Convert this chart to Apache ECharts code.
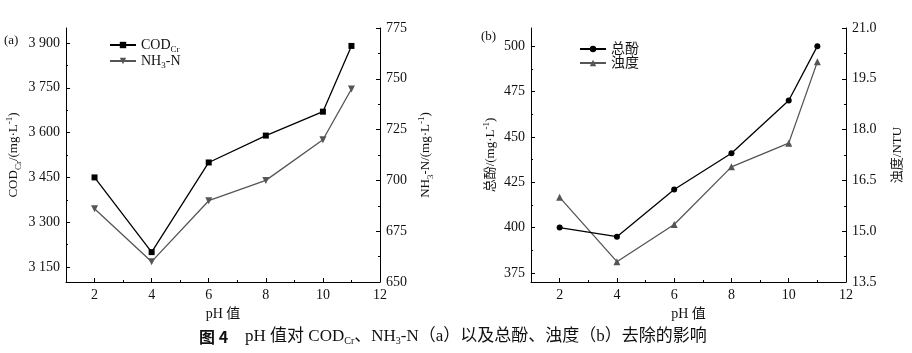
<!DOCTYPE html>
<html><head><meta charset="utf-8">
<script src="https://cdn.jsdelivr.net/npm/echarts@6/dist/echarts.min.js"></script>
<style>html,body{margin:0;padding:0;background:#fff}#c{width:912px;height:353px}</style>
</head><body><div id="c"></div>
<script>
// ---- data ----
const phValues = [2, 4, 6, 8, 10, 11];
const codCr = [3450, 3200, 3500, 3590, 3670, 3890];
const nh3n = [686, 660, 690, 700, 720, 745];
const phenol = [400, 395, 421, 441, 470, 500];
const turbidity = [16.0, 14.1, 15.2, 16.9, 17.6, 20.0];
// ---- tick labels ----
const phTicks = [2, 4, 6, 8, 10, 12];
const codTicks = [3150, 3300, 3450, 3600, 3750, 3900];
const nh3Ticks = [650, 675, 700, 725, 750, 775];
const phenolTicks = [375, 400, 425, 450, 475, 500];
const turbTicks = [13.5, 15.0, 16.5, 18.0, 19.5, 21.0];

function mids(arr, lo, hi) {
  const out = [];
  const step = arr[1] - arr[0];
  for (let v = arr[0] - step / 2; v <= hi + 1e-9; v += step) {
    if (v >= lo - 1e-9) out.push(+v.toFixed(4));
  }
  return out;
}
const FONT = "'Liberation Serif', 'Noto Sans CJK SC', serif";
const richStyles = {
  n: { fontSize: 13, lineHeight: 18, fontFamily: FONT, color: '#111' },
  sub: { fontSize: 9, lineHeight: 10, verticalAlign: 'bottom', fontFamily: FONT, color: '#111' },
  sup: { fontSize: 9, lineHeight: 10, verticalAlign: 'top', fontFamily: FONT, color: '#111' }
};
const lineC = '#000';
function mainAxis(extra) {
  return Object.assign({
    type: 'value',
    axisLine: { show: true, onZero: false, lineStyle: { color: lineC, width: 1 } },
    splitLine: { show: false },
    axisTick: { show: true, inside: true, length: 4, lineStyle: { color: lineC } },
    axisLabel: { fontFamily: FONT, fontSize: 14, color: '#111', margin: 6 },
    nameTextStyle: { fontFamily: FONT, fontSize: 13, color: '#111', rich: richStyles }
  }, extra);
}
function minorAxis(extra, ticks) {
  return Object.assign({
    type: 'value',
    axisLine: { show: false },
    splitLine: { show: false },
    axisTick: { show: true, inside: true, length: 2, customValues: ticks, lineStyle: { color: lineC } },
    axisLabel: { show: false }
  }, extra);
}
function withTicks(ax, ticks, fmt) {
  ax.axisTick.customValues = ticks;
  ax.axisLabel.customValues = ticks;
  if (fmt) ax.axisLabel.formatter = fmt;
  return ax;
}
const spaceFmt = v => { const s = String(Math.round(v)); return s.length > 3 ? s.slice(0, s.length - 3) + ' ' + s.slice(-3) : s; };

const xAxes = [];
const yAxes = [];
[0, 1].forEach(g => {
  const ax = withTicks(mainAxis({ gridIndex: g, min: 1, max: 12, position: 'bottom',
    name: 'pH 值', nameLocation: 'middle', nameGap: 24 }), phTicks);
  ax.nameTextStyle = { fontFamily: FONT, fontSize: 14, color: '#111' };
  xAxes.push(ax);
  xAxes.push(minorAxis({ gridIndex: g, min: 1, max: 12, position: 'bottom' }, [3, 5, 7, 9, 11]));
});
// grid 0 y axes
yAxes.push(withTicks(mainAxis({ gridIndex: 0, min: 3100, max: 3950, position: 'left',
  name: '{n|COD}{sub|Cr}{n|/(mg·L}{sup|-1}{n|)}', nameLocation: 'middle', nameGap: 43, nameRotate: 90 }), codTicks, spaceFmt));
yAxes.push(withTicks(mainAxis({ gridIndex: 0, min: 650, max: 775, position: 'right',
  name: '{n|NH}{sub|3}{n|-N/(mg·L}{sup|-1}{n|)}', nameLocation: 'middle', nameGap: 37, nameRotate: 90 }), nh3Ticks));
yAxes.push(minorAxis({ gridIndex: 0, min: 3100, max: 3950, position: 'left' }, mids(codTicks, 3100, 3950)));
yAxes.push(minorAxis({ gridIndex: 0, min: 650, max: 775, position: 'right' }, mids(nh3Ticks, 650, 775)));
// grid 1 y axes
yAxes.push(withTicks(mainAxis({ gridIndex: 1, min: 370, max: 510, position: 'left',
  name: '{n|总酚/(mg·L}{sup|-1}{n|)}', nameLocation: 'middle', nameGap: 31, nameRotate: 90 }), phenolTicks));
yAxes.push(withTicks(mainAxis({ gridIndex: 1, min: 13.5, max: 21, position: 'right',
  name: '{n|浊度/NTU}', nameLocation: 'middle', nameGap: 43, nameRotate: 90 }), turbTicks, v => v.toFixed(1)));
yAxes.push(minorAxis({ gridIndex: 1, min: 370, max: 510, position: 'left' }, mids(phenolTicks, 370, 510)));
yAxes.push(minorAxis({ gridIndex: 1, min: 13.5, max: 21, position: 'right' }, mids(turbTicks, 13.5, 21)));

function pairs(vals) { return phValues.map((x, i) => [x, vals[i]]); }
const black = '#000', gray = '#555';
function ser(name, vals, xi, yi, color, symbol, size, rot) {
  return {
    name, type: 'line', xAxisIndex: xi, yAxisIndex: yi, data: pairs(vals),
    symbol, symbolSize: size, symbolRotate: rot || 0, showSymbol: true,
    lineStyle: { color, width: 1.3 }, itemStyle: { color },
    animation: false, z: name === 'COD' || name === '总酚' ? 3 : 2
  };
}
const legendNames = {
  'COD': '{n|COD}{sub|Cr}',
  'NH3': '{n|NH}{sub|3}{n|-N}'
};
const legendRich = {
  n: { fontSize: 14, lineHeight: 18, fontFamily: FONT, color: '#111' },
  sub: { fontSize: 9, lineHeight: 10, verticalAlign: 'bottom', fontFamily: FONT, color: '#111' }
};

const chart = echarts.init(document.getElementById('c'), null, { renderer: 'canvas' });
chart.setOption({
  animation: false,
  backgroundColor: '#fff',
  grid: [
    { left: 66, top: 28, width: 314, height: 254, containLabel: false },
    { left: 531, top: 28, width: 315, height: 254, containLabel: false }
  ],
  xAxis: xAxes,
  yAxis: yAxes,
  legend: [
    { data: ['COD', 'NH3'], orient: 'vertical', left: 104, top: 33, itemGap: 0, itemWidth: 26, itemHeight: 8,
      formatter: n => legendNames[n], textStyle: { rich: legendRich, fontSize: 14, fontFamily: FONT } },
    { data: ['总酚', '浊度'], orient: 'vertical', left: 574, top: 37, itemGap: 0, itemWidth: 26, itemHeight: 8,
      formatter: n => '{n|' + n + '}', textStyle: { rich: legendRich, fontSize: 14, fontFamily: FONT } }
  ],
  series: [
    ser('COD', codCr, 0, 0, black, 'rect', 6),
    ser('NH3', nh3n, 0, 1, gray, 'triangle', 7, 180),
    ser('总酚', phenol, 2, 4, black, 'circle', 6),
    ser('浊度', turbidity, 2, 5, gray, 'triangle', 7)
  ],
  graphic: [
    { type: 'text', left: 4, top: 34, style: { text: '(a)', font: "13px 'Liberation Serif'", fill: '#111' } },
    { type: 'text', left: 481, top: 30, style: { text: '(b)', font: "13px 'Liberation Serif'", fill: '#111' } },
    { type: 'text', left: 199, top: 328, style: {
        text: '{b|图 4}{t|    pH 值对 COD}{s|Cr}{t|、NH}{s|3}{t|-N（a）以及总酚、浊度（b）去除的影响}',
        rich: {
          b: { fontSize: 16, fontWeight: 'bold', fontFamily: "'Noto Sans CJK SC', sans-serif", fill: '#111', lineHeight: 20 },
          t: { fontSize: 17, fontFamily: FONT, fill: '#111', lineHeight: 20 },
          s: { fontSize: 10, fontFamily: FONT, fill: '#111', lineHeight: 11, verticalAlign: 'bottom' }
        } } }
  ]
});
</script></body></html>
